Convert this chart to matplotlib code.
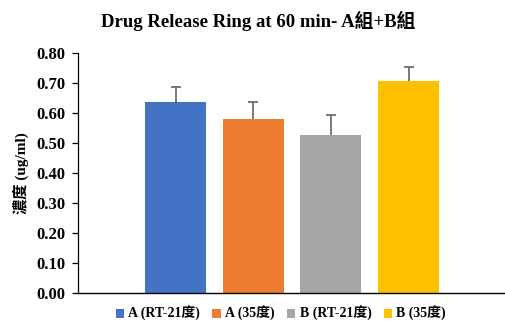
import matplotlib.pyplot as plt
import matplotlib

matplotlib.rcParams['font.family'] = ['Liberation Serif', 'Noto Sans CJK TC']
matplotlib.rcParams['font.weight'] = 'bold'

# データ
labels = ["A (RT-21度)", "A (35度)", "B (RT-21度)", "B (35度)"]
values = [0.638, 0.579, 0.525, 0.708]
errors = [0.048, 0.056, 0.067, 0.045]
colors = ["#4472c4", "#ed7d31", "#a5a5a5", "#ffc000"]
yticks = [0.0, 0.1, 0.2, 0.3, 0.4, 0.5, 0.6, 0.7, 0.8]

fig = plt.figure(figsize=(5.05, 3.22), dpi=100)
ax = fig.add_axes([0.1545, 0.0900, 0.8455, 0.7455])

for i in range(len(labels)):
    ax.bar(i, values[i], width=0.785, color=colors[i], label=labels[i], zorder=3)
    # 上側のみの誤差棒
    ax.errorbar(i, values[i], yerr=[[0], [errors[i]]], fmt="none", ecolor="#6d6d6d",
                elinewidth=1.3, capsize=0, zorder=2)
    ax.plot(i, values[i] + errors[i], marker="_", markersize=7, mew=1.3,
            color="#6d6d6d", zorder=2)

ax.set_xlim(-1.255, 4.24)
ax.set_ylim(0, 0.8)
ax.set_yticks(yticks)
ax.set_yticklabels([f"{v:.2f}" for v in yticks], fontsize=12, fontweight="bold")
ax.set_xticks([])
ax.spines["top"].set_visible(False)
ax.spines["right"].set_visible(False)
ax.spines["left"].set_linewidth(0.9)
ax.spines["bottom"].set_linewidth(1.0)
ax.spines["bottom"].set_zorder(4)
ax.tick_params(axis="y", length=4, width=0.9, pad=5)

ax.set_ylabel("濃度 (ug/ml)", fontsize=11, fontweight="bold", labelpad=5)
fig.suptitle("Drug Release Ring at 60 min- A組+B組", x=0.511, y=0.965,
             fontsize=13.5, fontweight="bold")

ax.legend(loc="upper center", bbox_to_anchor=(0.475, -0.015), ncol=4, frameon=False,
          handlelength=0.6, handleheight=0.6, handletextpad=0.3, borderpad=0.2,
          columnspacing=0.9, prop=dict(weight="bold", size=10))

fig.savefig("out.png", dpi=100)
